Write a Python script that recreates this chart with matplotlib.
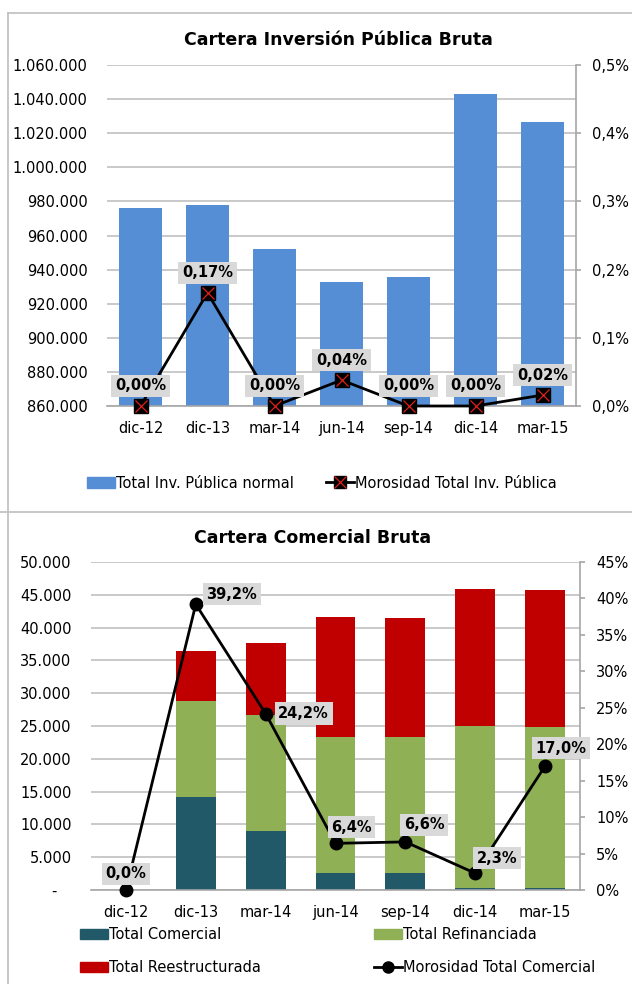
import matplotlib
matplotlib.use("Agg")
import matplotlib.pyplot as plt
import numpy as np
from matplotlib.patches import Patch
from matplotlib.lines import Line2D
from matplotlib.legend_handler import HandlerTuple

plt.rcParams['font.family'] = ['DejaVu Sans']

# ---------------- data ----------------
categories = ["dic-12", "dic-13", "mar-14", "jun-14", "sep-14", "dic-14", "mar-15"]

# Top chart
inv_publica_normal = [975950, 977900, 952000, 932600, 935500, 1043100, 1026500]
morosidad_inv_publica = [0.00, 0.166, 0.00, 0.038, 0.00, 0.00, 0.016]  # percent

# Bottom chart
total_comercial = [0, 14240, 9000, 2600, 2600, 250, 250]
total_refinanciada = [0, 14600, 17700, 20700, 20700, 24770, 24620]
total_reestructurada = [0, 7630, 10940, 18260, 18160, 20860, 20800]
morosidad_comercial = [0.0, 39.2, 24.2, 6.4, 6.6, 2.3, 17.0]  # percent

W, H = 632, 984
fig = plt.figure(figsize=(W / 100, H / 100), dpi=100)

GRID = "#c0c0c0"
SPINE = "#a6a6a6"
FS = 10.5

def ax_rect(x0, y0, x1, y1):
    return [x0 / W, 1 - y1 / H, (x1 - x0) / W, (y1 - y0) / H]

def thousands(v):
    return f"{int(round(v)):,}".replace(",", ".")

# panel borders
fig.add_artist(Line2D([8 / W, 8 / W], [0, 1 - 13 / H], color="#bfbfbf", lw=1.2, transform=fig.transFigure))
fig.add_artist(Line2D([8 / W, 1], [1 - 13 / H, 1 - 13 / H], color="#bfbfbf", lw=1.2, transform=fig.transFigure))
fig.add_artist(Line2D([0, 1], [1 - 512 / H, 1 - 512 / H], color="#bfbfbf", lw=1.2, transform=fig.transFigure))

x = np.arange(len(categories))

# ---------------- top chart ----------------
ax1 = fig.add_axes(ax_rect(107, 65, 576, 406))
ax1.bar(x, inv_publica_normal, width=0.63, color="#558ED5", zorder=2)
ax1.set_ylim(860000, 1060000)
ax1.set_xlim(-0.5, len(categories) - 0.5)
yt = np.arange(860000, 1060001, 20000)
ax1.set_yticks(yt)
ax1.set_yticklabels([thousands(v) for v in yt], fontsize=FS)
ax1.yaxis.grid(True, color=GRID, lw=1.2, zorder=0)
ax1.set_axisbelow(True)
ax1.tick_params(axis="y", length=0, pad=14)
ax1.set_xticks(x)
ax1.set_xticklabels(categories, fontsize=FS)
ax1.tick_params(axis="x", length=0, pad=11)
for s in ["top", "left", "right"]:
    ax1.spines[s].set_visible(False)
ax1.spines["bottom"].set_color(SPINE)
ax1.spines["bottom"].set_linewidth(1.2)

ax1r = ax1.twinx()
ax1r.set_ylim(0, 0.5)
rt1 = np.arange(0, 0.51, 0.1)
ax1r.set_yticks(rt1)
ax1r.set_yticklabels([f"{v:.1f}%".replace(".", ",") for v in rt1], fontsize=FS)
ax1r.tick_params(axis="y", length=3.5, color=SPINE, width=1.2, pad=8)
for s in ["top", "left", "bottom"]:
    ax1r.spines[s].set_visible(False)
ax1r.spines["right"].set_color(SPINE)
ax1r.spines["right"].set_linewidth(1.2)
ax1r.plot(x, morosidad_inv_publica, color="black", lw=2, zorder=3, clip_on=False)
ax1r.plot(x, morosidad_inv_publica, ls="none", marker="s", ms=10, mfc="black", mec="black", zorder=4, clip_on=False)
ax1r.plot(x, morosidad_inv_publica, ls="none", marker="x", ms=9, mec="#e0201b", mew=0.9, zorder=5, clip_on=False)
for xi, v in zip(x, morosidad_inv_publica):
    ax1r.annotate(f"{v:.2f}%".replace(".", ","), (xi, v), xytext=(0, 20), textcoords="offset pixels",
                  ha="center", va="center", fontsize=FS, fontweight="bold",
                  bbox=dict(boxstyle="square,pad=0.25", fc="#d9d9d9", ec="none"), zorder=6,
                  annotation_clip=False)

fig.text(338 / W, 1 - 40 / H, "Cartera Inversión Pública Bruta", ha="center", va="center",
         fontsize=12.5, fontweight="bold")

h_bar = Patch(color="#558ED5")
h_line = (Line2D([], [], color="black", lw=2, marker="s", ms=9, mfc="black", mec="black"),
          Line2D([], [], ls="none", marker="x", ms=8, mec="#e0201b", mew=0.9))
fig.legend([h_bar, h_line], ["Total Inv. Pública normal", "Morosidad Total Inv. Pública"],
           handler_map={tuple: HandlerTuple(ndivide=1, pad=0)},
           loc="center", bbox_to_anchor=(322 / W, 1 - 483 / H), ncol=2, frameon=False,
           fontsize=FS, handlelength=1.9, handleheight=0.7, handletextpad=0.1, columnspacing=2.2)

# ---------------- bottom chart ----------------
ax2 = fig.add_axes(ax_rect(91, 562, 580, 890))
bw = 0.57
ax2.bar(x, total_comercial, width=bw, color="#215968", zorder=2)
b2 = np.array(total_comercial)
ax2.bar(x, total_refinanciada, width=bw, bottom=b2, color="#8FB055", zorder=2)
b3 = b2 + np.array(total_refinanciada)
ax2.bar(x, total_reestructurada, width=bw, bottom=b3, color="#C00000", zorder=2)
ax2.set_ylim(0, 50000)
ax2.set_xlim(-0.5, len(categories) - 0.5)
yt2 = np.arange(0, 50001, 5000)
ax2.set_yticks(yt2)
ax2.set_yticklabels(["-   " if v == 0 else thousands(v) for v in yt2], fontsize=FS)
ax2.yaxis.grid(True, color=GRID, lw=1.2, zorder=0)
ax2.set_axisbelow(True)
ax2.tick_params(axis="y", length=0, pad=14)
ax2.set_xticks(x)
ax2.set_xticklabels(categories, fontsize=FS)
ax2.tick_params(axis="x", length=0, pad=11)
for s in ["top", "left", "right"]:
    ax2.spines[s].set_visible(False)
ax2.spines["bottom"].set_color(SPINE)
ax2.spines["bottom"].set_linewidth(1.2)

ax2r = ax2.twinx()
ax2r.set_ylim(0, 45)
rt = np.arange(0, 46, 5)
ax2r.set_yticks(rt)
ax2r.set_yticklabels([f"{int(v)}%" for v in rt], fontsize=FS)
ax2r.tick_params(axis="y", length=3.5, color=SPINE, width=1.2, pad=8)
for s in ["top", "left", "bottom"]:
    ax2r.spines[s].set_visible(False)
ax2r.spines["right"].set_color(SPINE)
ax2r.spines["right"].set_linewidth(1.2)
ax2r.plot(x, morosidad_comercial, color="black", lw=2, marker="o", ms=9, mfc="black", mec="black",
          zorder=4, clip_on=False)
offsets = [(0, 16), (36, 10), (38, 0), (16, 16), (19, 17), (22, 15), (16, 18)]
for xi, v, off in zip(x, morosidad_comercial, offsets):
    ax2r.annotate(f"{v:.1f}%".replace(".", ","), (xi, v), xytext=off, textcoords="offset pixels",
                  ha="center", va="center", fontsize=FS, fontweight="bold",
                  bbox=dict(boxstyle="square,pad=0.25", fc="#d9d9d9", ec="none"), zorder=6,
                  annotation_clip=False)

fig.text(313 / W, 1 - 538 / H, "Cartera Comercial Bruta", ha="center", va="center",
         fontsize=12.5, fontweight="bold")

handles2 = [Patch(color="#215968"), Patch(color="#C00000"), Patch(color="#8FB055"),
            Line2D([], [], color="black", lw=2, marker="o", ms=8, mfc="black")]
labels2 = ["Total Comercial", "Total Reestructurada", "Total Refinanciada", "Morosidad Total Comercial"]
fig.legend(handles2, labels2, loc="upper left", bbox_to_anchor=(80 / W, 1 - 927 / H), ncol=2,
           frameon=False, fontsize=FS, handlelength=1.9, handleheight=0.7, handletextpad=0.1,
           columnspacing=7.75, labelspacing=1.25, borderpad=0, borderaxespad=0)

fig.savefig("out.png", dpi=100)
